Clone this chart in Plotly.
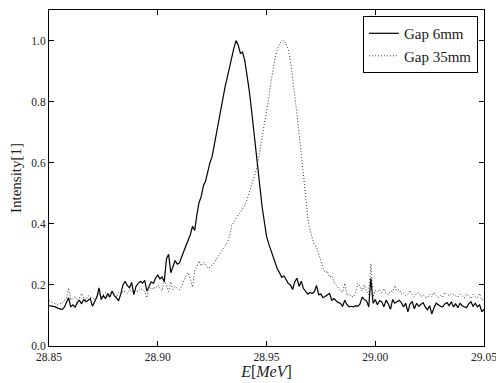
import numpy as np
import plotly.graph_objects as go

# Energy grid (MeV), step 0.001
energy = np.round(np.arange(28.850, 29.0505, 0.001), 3)

gap6 = [
    0.132, 0.131, 0.130, 0.128, 0.124, 0.121, 0.119, 0.126, 0.140, 0.158,
    0.128, 0.135, 0.127, 0.142, 0.150, 0.138, 0.152, 0.145, 0.150, 0.155,
    0.130, 0.148, 0.160, 0.190, 0.152, 0.165, 0.155, 0.172, 0.160, 0.180,
    0.165, 0.158, 0.148, 0.170, 0.200, 0.212, 0.198, 0.190, 0.208, 0.168,
    0.195, 0.205, 0.212, 0.206, 0.215, 0.180, 0.196, 0.210, 0.205, 0.222,
    0.232, 0.220, 0.226, 0.210, 0.285, 0.300, 0.240, 0.262, 0.280, 0.268,
    0.272, 0.292, 0.310, 0.330, 0.345, 0.365, 0.392, 0.378, 0.430, 0.470,
    0.490, 0.525, 0.540, 0.575, 0.600, 0.620, 0.660, 0.700, 0.740, 0.780,
    0.820, 0.850, 0.880, 0.915, 0.950, 0.975, 1.000, 0.985, 0.958, 0.962,
    0.935, 0.890, 0.840, 0.780, 0.720, 0.660, 0.590, 0.520, 0.455, 0.400,
    0.360, 0.335, 0.315, 0.295, 0.275, 0.252, 0.240, 0.225, 0.230, 0.215,
    0.205, 0.200, 0.185, 0.210, 0.222, 0.195, 0.212, 0.188, 0.178, 0.170,
    0.175, 0.172, 0.178, 0.198, 0.168, 0.170, 0.158, 0.162, 0.168, 0.172,
    0.150, 0.155, 0.148, 0.142, 0.140, 0.130, 0.150, 0.135, 0.128, 0.130,
    0.128, 0.132, 0.130, 0.138, 0.160, 0.152, 0.148, 0.128, 0.222, 0.140,
    0.152, 0.135, 0.148, 0.145, 0.128, 0.150, 0.138, 0.120, 0.152, 0.140,
    0.145, 0.150, 0.142, 0.128, 0.140, 0.112, 0.138, 0.145, 0.122, 0.140,
    0.130, 0.135, 0.142, 0.128, 0.118, 0.132, 0.105, 0.125, 0.140, 0.135,
    0.130, 0.128, 0.138, 0.142, 0.132, 0.145, 0.128, 0.138, 0.125, 0.140,
    0.132, 0.128, 0.126, 0.138, 0.145, 0.130, 0.140, 0.128, 0.135, 0.112,
    0.120,
]

gap35 = [
    0.148, 0.146, 0.142, 0.138, 0.135, 0.138, 0.140, 0.150, 0.155, 0.190,
    0.150, 0.155, 0.162, 0.150, 0.158, 0.172, 0.155, 0.150, 0.165, 0.160,
    0.158, 0.150, 0.165, 0.172, 0.160, 0.168, 0.175, 0.160, 0.172, 0.178,
    0.170, 0.160, 0.175, 0.168, 0.180, 0.178, 0.172, 0.185, 0.180, 0.175,
    0.182, 0.178, 0.188, 0.185, 0.178, 0.158, 0.195, 0.185, 0.192, 0.188,
    0.200, 0.190, 0.180, 0.215, 0.200, 0.178, 0.210, 0.185, 0.195, 0.190,
    0.185, 0.195, 0.215, 0.230, 0.240, 0.220, 0.192, 0.248, 0.260, 0.278,
    0.262, 0.275, 0.265, 0.255, 0.258, 0.265, 0.272, 0.285, 0.295, 0.305,
    0.318, 0.328, 0.338, 0.360, 0.395, 0.405, 0.418, 0.430, 0.438, 0.450,
    0.460, 0.478, 0.500, 0.520, 0.545, 0.570, 0.600, 0.640, 0.680, 0.720,
    0.770, 0.810, 0.860, 0.905, 0.945, 0.970, 0.990, 0.998, 1.000, 0.990,
    0.970, 0.935, 0.885, 0.820, 0.760, 0.700, 0.630, 0.560, 0.490, 0.420,
    0.380, 0.350, 0.330, 0.325, 0.300, 0.275, 0.255, 0.240, 0.245, 0.225,
    0.230, 0.210, 0.198, 0.190, 0.180, 0.175, 0.205, 0.165, 0.170, 0.162,
    0.160, 0.175, 0.205, 0.195, 0.180, 0.200, 0.178, 0.168, 0.270, 0.160,
    0.182, 0.178, 0.185, 0.175, 0.188, 0.172, 0.168, 0.180, 0.178, 0.198,
    0.180, 0.185, 0.170, 0.175, 0.165, 0.170, 0.182, 0.168, 0.160, 0.172,
    0.175, 0.162, 0.168, 0.160, 0.158, 0.170, 0.162, 0.175, 0.165, 0.158,
    0.165, 0.160, 0.175, 0.170, 0.165, 0.172, 0.168, 0.162, 0.160, 0.170,
    0.165, 0.158, 0.170, 0.162, 0.155, 0.168, 0.160, 0.158, 0.172, 0.150,
    0.155,
]

x_ticks = [28.85, 28.90, 28.95, 29.00, 29.05]
x_tick_labels = ["28.85", "28.90", "28.95", "29.00", "29.05"]
y_ticks = [0.0, 0.2, 0.4, 0.6, 0.8, 1.0]
y_tick_labels = ["0.0", "0.2", "0.4", "0.6", "0.8", "1.0"]

serif = '"Liberation Serif", "Times New Roman", serif'

fig = go.Figure()
fig.add_trace(go.Scatter(x=energy, y=gap6, mode="lines", name="Gap 6mm",
                         line=dict(color="black", width=1.2)))
fig.add_trace(go.Scatter(x=energy, y=gap35, mode="lines", name="Gap 35mm",
                         line=dict(color="#333333", width=1, dash="1px,2px")))

axis_common = dict(showline=True, linecolor="black", linewidth=1, mirror="allticks",
                   ticks="inside", ticklen=5, tickwidth=1, tickcolor="black",
                   showgrid=False, zeroline=False, ticklabeloverflow="allow",
                   automargin=False,
                   tickfont=dict(family=serif, size=11.5, color="#222222"))

fig.update_xaxes(range=[28.85, 29.05001], tickvals=x_ticks, ticktext=x_tick_labels,
                 title=dict(text="<i>E</i>[<i>MeV</i>]", font=dict(family=serif, size=16, color="#222222"),
                            standoff=4),
                 **axis_common)
fig.update_yaxes(range=[0, 1.1], tickvals=y_ticks, ticktext=y_tick_labels,
                 title=dict(text="Intensity[1]", font=dict(family=serif, size=15, color="#222222"),
                            standoff=6),
                 **axis_common)

fig.update_layout(
    width=496, height=383,
    margin=dict(l=49, r=12, t=10, b=37),
    paper_bgcolor="white", plot_bgcolor="white",
    showlegend=True,
    legend=dict(x=0.986, y=0.982, xanchor="right", yanchor="top",
                bordercolor="black", borderwidth=1, bgcolor="white",
                font=dict(family=serif, size=15, color="#222222"),
                tracegroupgap=0, itemwidth=30),
)

fig.write_html("out.html")
